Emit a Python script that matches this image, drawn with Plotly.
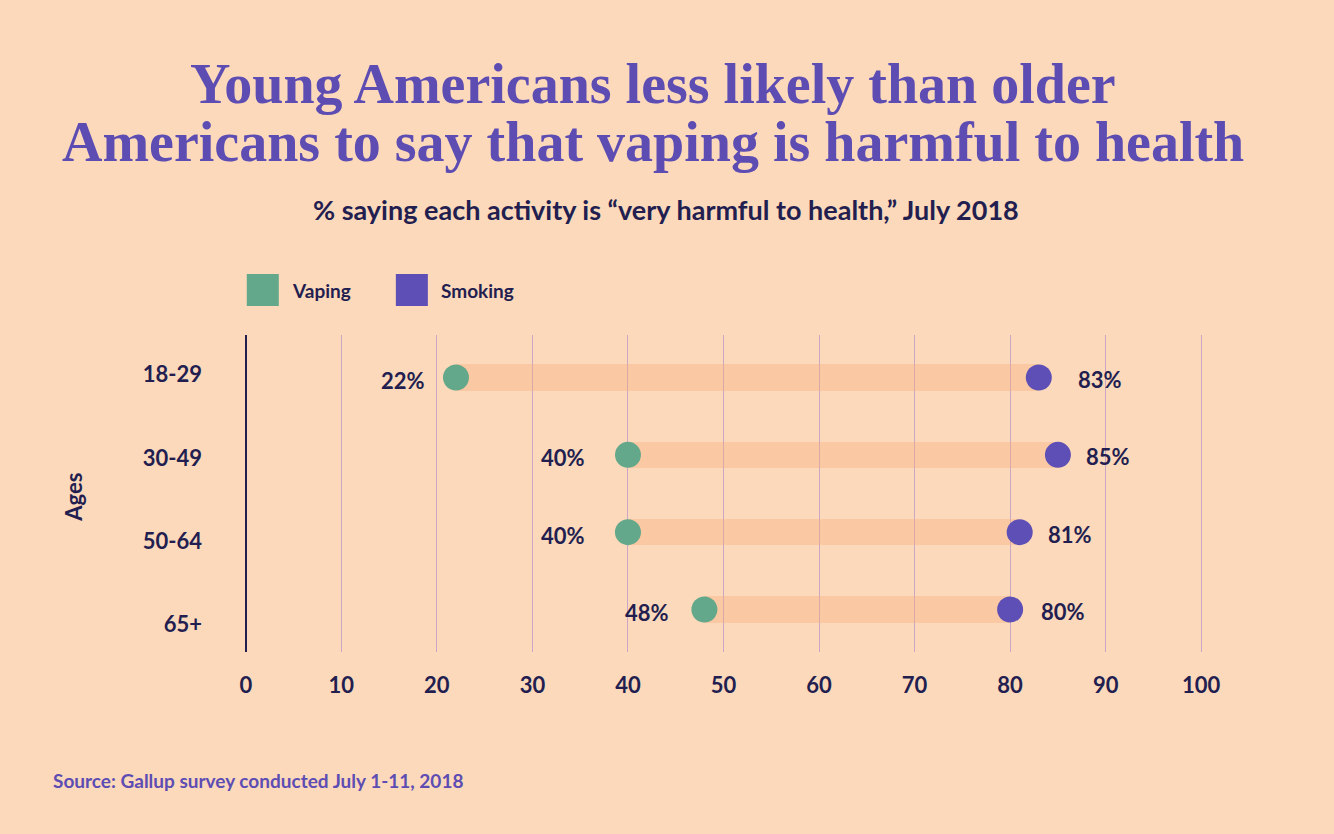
import plotly.graph_objects as go

# ---- data ----
ages = ["18-29", "30-49", "50-64", "65+"]
vaping = [22, 40, 40, 48]
smoking = [83, 85, 81, 80]
x_ticks = [0, 10, 20, 30, 40, 50, 60, 70, 80, 90, 100]
title_lines = ["Young Americans less likely than older",
               "Americans to say that vaping is harmful to health"]
subtitle = "% saying each activity is “very harmful to health,” July 2018"
source = "Source: Gallup survey conducted July 1-11, 2018"

# ---- styling ----
BG = "#FCD9BB"
NAVY = "#231E50"
PURPLE = "#5D4DB3"
GREEN = "#63A88A"
DOT_PURPLE = "#5E4FB6"
BAND = "rgba(247,176,124,0.40)"
GRID = "#C9A7C5"
FONT = "Lato"

W, H = 1334, 834
x0px, x100px = 246, 1201
ppu = (x100px - x0px) / 100.0
xr = [-0.5, 100.5]
plot_l = x0px + xr[0] * ppu
plot_r = x0px + xr[1] * ppu
plot_t, plot_b = 335, 652

rows = list(range(len(ages)))
label_y = [-0.04, 1.04, 2.12, 3.19]  # tick label vertical placement (styling)
vgap = [16, 28, 28, 20]
sgap = [24, 13, 13, 16]

fig = go.Figure()

# bands
fig.add_trace(go.Bar(
    y=rows, x=[s - v for s, v in zip(smoking, vaping)], base=vaping,
    orientation="h", width=0.34, marker=dict(color=BAND, line=dict(width=0)),
    hoverinfo="skip", showlegend=False))

fig.add_trace(go.Scatter(
    y=rows, x=vaping, mode="markers", name="Vaping",
    marker=dict(size=26, color=GREEN, line=dict(width=0)), showlegend=False))
fig.add_trace(go.Scatter(
    y=rows, x=smoking, mode="markers", name="Smoking",
    marker=dict(size=26, color=DOT_PURPLE, line=dict(width=0)), showlegend=False))

ann = []
for i in rows:
    ann.append(dict(x=vaping[i], y=i, xref="x", yref="y", text=f"{vaping[i]}%",
                    showarrow=False, xanchor="right", yanchor="middle",
                    xshift=-(13 + vgap[i]), yshift=-3,
                    font=dict(family=FONT, size=22, color=NAVY, weight="bold")))
    ann.append(dict(x=smoking[i], y=i, xref="x", yref="y", text=f"{smoking[i]}%",
                    showarrow=False, xanchor="left", yanchor="middle",
                    xshift=(13 + sgap[i]), yshift=-2,
                    font=dict(family=FONT, size=22, color=NAVY, weight="bold")))

pw = plot_r - plot_l
ph = plot_b - plot_t
def px2x(px):
    return (px - plot_l) / pw
def py2y(py):
    return (plot_b - py) / ph

# title (two lines)
for line, cy in zip(title_lines, [84, 142]):
    ann.append(dict(x=px2x(653), y=py2y(cy), xref="paper", yref="paper",
                    text=line, showarrow=False, xanchor="center", yanchor="middle",
                    font=dict(family="Liberation Serif", size=56, color=PURPLE, weight="bold")))
# subtitle
ann.append(dict(x=px2x(666), y=py2y(209), xref="paper", yref="paper",
                text=subtitle, showarrow=False, xanchor="center", yanchor="middle",
                font=dict(family=FONT, size=27, color=NAVY, weight="bold")))
# Ages
ann.append(dict(x=px2x(73), y=py2y(497), xref="paper", yref="paper", text="Ages",
                textangle=-90, showarrow=False, xanchor="center", yanchor="middle",
                font=dict(family=FONT, size=22, color=NAVY, weight="bold")))
# source
ann.append(dict(x=px2x(51), y=py2y(780), xref="paper", yref="paper",
                text=source, showarrow=False, xanchor="left", yanchor="middle",
                font=dict(family=FONT, size=19, color=PURPLE, weight="bold")))

# legend
shapes = []
legend_items = [("Vaping", GREEN, 247), ("Smoking", DOT_PURPLE, 396)]
for name, col, lx in legend_items:
    shapes.append(dict(type="rect", xref="paper", yref="paper",
                       x0=px2x(lx), x1=px2x(lx + 32), y0=py2y(306), y1=py2y(274),
                       fillcolor=col, line=dict(width=0)))
    ann.append(dict(x=px2x(lx + 43), y=py2y(290), xref="paper", yref="paper", text=name,
                    showarrow=False, xanchor="left", yanchor="middle",
                    font=dict(family=FONT, size=19, color=NAVY, weight="bold")))

fig.update_layout(
    width=W, height=H,
    paper_bgcolor=BG, plot_bgcolor=BG,
    margin=dict(l=plot_l, r=W - plot_r, t=plot_t, b=H - plot_b, autoexpand=False),
    showlegend=False,
    annotations=ann, shapes=shapes,
    bargap=0,
)
fig.update_xaxes(range=xr, tickvals=x_ticks, ticktext=[str(t) for t in x_ticks],
                 showgrid=True, gridcolor=GRID, gridwidth=1,
                 zeroline=True, zerolinecolor=NAVY, zerolinewidth=2,
                 showline=False, ticks="", ticklabelstandoff=18,
                 tickfont=dict(family=FONT, size=22, color=NAVY, weight="bold"),
                 fixedrange=True)
fig.update_yaxes(range=[3.55, -0.55], tickvals=label_y, ticktext=ages,
                 showgrid=False, zeroline=False, showline=False, ticks="",
                 ticklabelstandoff=38,
                 tickfont=dict(family=FONT, size=22, color=NAVY, weight="bold"),
                 fixedrange=True)

fig.write_html("out.html")
